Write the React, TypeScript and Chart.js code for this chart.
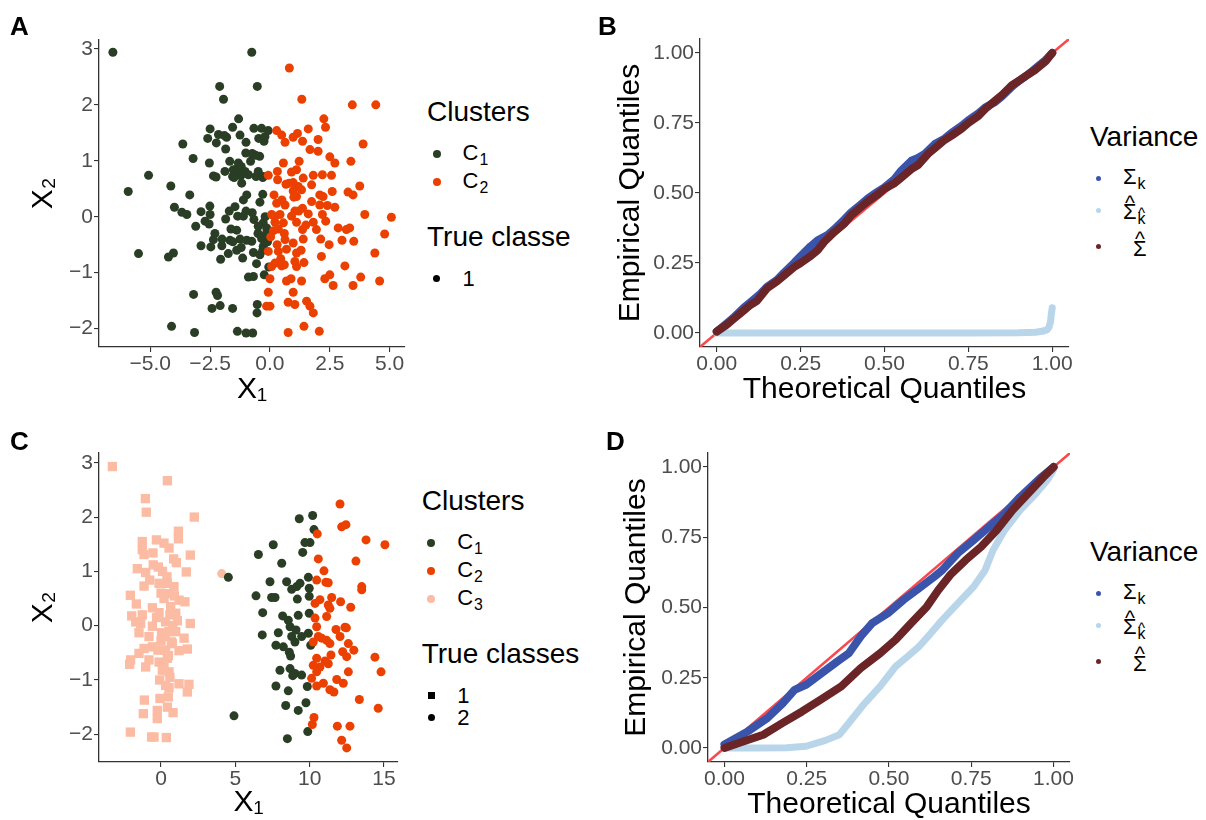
import React, { useEffect, useRef } from "react";
import { Chart, registerables } from "chart.js";
Chart.register(...registerables);

const FONT = '"Liberation Sans", Arial, Helvetica, "DejaVu Sans", sans-serif';
const GREEN = "#293E25";
const ORANGE = "#EB4000";
const PEACH = "#FCBBA3";
const BLUE = "#3B54AB";
const LIGHTBLUE = "#B8D5EA";
const BROWN = "#6B2526";
const RED = "#F8494E";
const TICK_COLOR = "#4D4D4D";

// ---------- Panel A : clusters on one true class ----------
const A_C1: number[][] = [
  [-6.56, 2.94], [-0.76, 2.94], [-2.1, 2.33], [-0.53, 2.33], [-1.94, 2.1], [-1.31, 1.75], [-2.5, 1.57], [-1.56, 1.6],
  [-0.67, 1.58], [-0.35, 1.58], [-0.07, 1.54], [-2.15, 1.47], [-1.81, 1.42], [-2.6, 1.4], [-1.25, 1.46], [-0.47, 1.4],
  [-0.21, 1.43], [-2.24, 1.32], [-1.0, 1.33], [-3.64, 1.3], [-1.85, 1.21], [-1.01, 1.14], [-0.74, 1.13], [-0.43, 1.08],
  [-3.21, 1.04], [-1.68, 0.99], [-2.53, 0.96], [-1.32, 0.96], [-0.81, 0.99], [-1.88, 0.81], [-1.53, 0.84], [-1.36, 0.78],
  [-1.04, 0.81], [-0.49, 0.81], [-1.56, 0.72], [-1.22, 0.73], [-2.36, 0.73], [-2.25, 0.71], [-5.07, 0.74], [-0.58, 0.72],
  [-0.28, 0.72], [-1.18, 0.6], [-4.14, 0.55], [-5.92, 0.45], [-3.35, 0.39], [-0.97, 0.39], [-1.11, 0.3], [-0.42, 0.26],
  [-3.99, 0.17], [-2.51, 0.19], [-1.46, 0.18], [-3.68, 0.08], [-3.47, 0.04], [-2.88, 0.09], [-2.5, 0.04], [-1.85, -0.04],
  [-1.35, 0.01], [-1.11, 0.01], [-0.74, 0.07], [-0.67, -0.05], [-2.71, -0.08], [-2.54, -0.13], [-3.1, -0.17], [-0.28, -0.11],
  [-0.14, -0.2], [-1.63, -0.22], [-1.39, -0.24], [-0.49, -0.17], [-2.36, -0.41], [-1.67, -0.42], [-1.25, -0.4], [-0.97, -0.42],
  [-0.76, -0.44], [-0.35, -0.39], [-2.47, -0.54], [-2.88, -0.52], [-2.01, -0.52], [-0.28, -0.53], [-1.39, -0.6], [-1.74, -0.66],
  [-5.49, -0.66], [-0.69, -0.64], [-0.42, -0.68], [-4.03, -0.65], [-4.24, -0.72], [-1.14, -0.74], [-2.06, -0.76], [-0.56, -0.84],
  [-0.9, -1.08], [-0.69, -1.07], [-0.24, -1.04], [-3.19, -1.39], [-2.25, -1.35], [-2.19, -1.41], [-2.08, -1.59], [-2.42, -1.64],
  [-1.56, -1.64], [-0.53, -1.57], [-0.54, -1.72], [-4.11, -1.96], [-3.15, -2.07], [-1.36, -2.05], [-1.0, -2.08], [-0.72, -2.08],
  [-1.5, 0.7], [-1.4, 0.85], [-1.2, 0.9], [-0.9, 0.75], [-0.3, 0.7], [-0.2, 0.0], [-0.15, -0.3], [-0.3, -0.6],
  [-0.1, -0.45], [-1.9, 1.45], [-2.0, -0.4], [-1.55, -0.45], [-1.2, -0.55], [-0.6, 1.1], [-0.25, 1.35], [-1.7, 0.1],
  [-0.05, -0.9], [-0.3, 0.4], [-2.3, -0.3], [-1.0, 0.1], [-0.5, -0.3],
];
const A_C2: number[][] = [
  [0.81, 2.66], [1.33, 2.1], [3.44, 2.0], [4.42, 2.0], [2.25, 1.75], [2.32, 1.6], [1.6, 1.57], [0.28, 1.54],
  [0.49, 1.46], [0.63, 1.33], [0.97, 1.42], [1.15, 1.49], [1.36, 1.35], [2.01, 1.38], [3.89, 1.3], [1.67, 1.2],
  [2.01, 1.17], [2.5, 1.07], [2.71, 0.96], [3.38, 0.99], [1.22, 0.99], [0.56, 0.96], [-0.07, 0.74], [0.31, 0.81],
  [0.9, 0.8], [1.11, 0.84], [1.81, 0.74], [2.19, 0.75], [2.57, 0.74], [0.32, 0.66], [0.67, 0.58], [0.97, 0.61],
  [1.39, 0.69], [1.74, 0.57], [1.18, 0.54], [0.97, 0.46], [1.32, 0.48], [1.11, 0.36], [3.75, 0.55], [2.6, 0.45],
  [3.26, 0.44], [3.47, 0.39], [0.17, 0.39], [2.08, 0.39], [2.22, 0.36], [0.28, 0.24], [0.63, 0.21], [1.74, 0.27],
  [2.08, 0.21], [2.71, 0.17], [1.04, 0.1], [1.36, 0.15], [0.07, 0.04], [0.42, 0.04], [0.9, 0.01], [2.19, 0.04],
  [3.96, 0.04], [5.07, -0.01], [0.21, -0.1], [0.56, -0.11], [1.11, -0.1], [1.81, -0.1], [2.33, -0.08], [0.35, -0.22],
  [1.36, -0.23], [1.94, -0.23], [2.85, -0.2], [3.19, -0.23], [3.33, -0.2], [4.79, -0.31], [0.03, -0.36], [0.63, -0.41],
  [0.97, -0.47], [1.39, -0.4], [2.12, -0.4], [3.01, -0.42], [3.5, -0.44], [2.47, -0.5], [-0.07, -0.62], [0.35, -0.62],
  [0.69, -0.58], [1.11, -0.65], [2.15, -0.71], [0.21, -0.83], [0.49, -0.88], [1.04, -0.8], [1.42, -0.82], [4.38, -0.65],
  [0.07, -0.89], [0.6, -0.86], [1.11, -0.89], [3.13, -0.88], [0.0, -1.11], [0.69, -1.15], [0.88, -1.11], [1.32, -1.15],
  [2.29, -1.11], [2.5, -1.04], [2.64, -1.23], [3.47, -1.23], [3.79, -1.08], [4.58, -1.15], [-0.07, -1.35], [0.97, -1.35],
  [0.76, -1.53], [1.04, -1.57], [1.53, -1.51], [1.67, -1.6], [1.81, -1.72], [-0.14, -1.6], [0.0, -1.6], [1.42, -1.96],
  [2.06, -2.05], [0.76, -2.07],
  [0.5, 0.3], [0.8, 0.6], [1.0, 0.35], [0.3, -0.5], [0.6, -0.3], [1.3, -0.6], [0.2, 0.0], [0.45, -0.75],
  [1.6, 0.05], [1.2, 0.1], [0.15, -0.25], [2.4, 0.2], [1.5, -0.15],
];

// ---------- Panel C : three clusters, two true classes ----------
const C_C3_CLASS1: number[][] = [
  [-3.27, 2.93], [0.43, 2.67], [-1.05, 2.34], [-0.99, 2.09], [2.24, 2.0], [1.17, 1.74], [1.17, 1.6], [-1.26, 1.55],
  [-0.31, 1.58], [0.2, 1.52], [0.54, 1.43], [-1.26, 1.4], [-1.14, 1.31], [-0.54, 1.34], [0.85, 1.23], [1.03, 1.16],
  [1.97, 1.3], [-0.52, 1.12], [-0.18, 1.08], [-1.59, 1.05], [-1.03, 0.98], [1.7, 0.99], [-0.76, 0.84], [-1.14, 0.73],
  [-0.13, 0.78], [0.43, 0.78], [0.87, 0.72], [-2.06, 0.56], [-1.66, 0.4], [0.54, 0.59], [1.61, 0.44], [1.21, 0.47],
  [-0.58, 0.33], [-0.13, 0.24], [0.65, 0.35], [0.99, 0.23], [-1.97, 0.18], [-1.26, 0.2], [-1.7, 0.07], [-1.37, 0.04],
  [0.31, 0.07], [1.1, 0.09], [1.97, 0.04], [-0.58, -0.01], [-1.48, -0.13], [-0.81, -0.2], [0.04, -0.13], [0.54, -0.11],
  [0.99, -0.11], [1.55, -0.23], [0.0, -0.28], [0.76, -0.33], [1.77, -0.43], [1.21, -0.46], [-1.14, -0.42], [-0.58, -0.39],
  [0.31, -0.45], [-1.48, -0.51], [-2.04, -0.63], [-2.11, -0.71], [-1.03, -0.76], [-0.81, -0.63], [-0.13, -0.67], [0.43, -0.6],
  [0.09, -0.82], [0.54, -0.85], [-0.09, -1.0], [0.31, -1.1], [1.21, -1.07], [1.88, -1.08], [1.77, -1.22], [0.54, -1.14],
  [-1.12, -1.37], [-0.07, -1.34], [0.49, -1.31], [-1.19, -1.62], [-0.25, -1.56], [0.43, -1.5], [0.81, -1.6], [-0.25, -1.71],
  [-2.06, -1.96], [-0.63, -2.05], [-0.47, -2.05], [0.36, -2.06],
  [0.2, 0.5], [0.4, 0.9], [0.6, 0.2], [0.3, -0.2], [0.5, -0.55], [0.7, -0.3], [0.0, 0.6], [0.8, 0.0],
  [-0.3, 0.15], [0.2, -0.75], [0.6, -0.95], [-0.2, -0.45], [0.9, 0.55], [0.1, 1.0],
];
const C_C3_CLASS2: number[][] = [[4.08, 0.96]];
const C_C1_CLASS2: number[][] = [
  [4.53, 0.89], [4.91, -1.66], [6.55, 1.31], [7.55, 1.49], [8.12, 1.15], [9.3, 1.97], [10.2, 2.03], [10.29, 1.77],
  [9.68, 1.53], [10.02, 1.53], [9.53, 1.35], [7.33, 0.81], [6.39, 0.55], [7.44, 0.52], [7.67, 0.52], [8.45, 0.81],
  [8.79, 0.67], [9.13, 0.72], [9.35, 0.78], [9.91, 0.89], [9.97, 0.69], [9.97, 0.54], [9.17, 0.49], [6.84, 0.24],
  [8.18, 0.18], [8.56, 0.1], [9.23, 0.19], [9.97, 0.23], [8.68, -0.02], [9.08, -0.08], [7.89, -0.13], [6.81, -0.17],
  [8.79, -0.2], [9.46, -0.2], [9.91, -0.14], [9.01, -0.3], [7.73, -0.36], [8.23, -0.39], [10.07, -0.36], [8.63, -0.49],
  [8.72, -0.56], [8.0, -0.82], [8.68, -0.79], [9.01, -0.88], [9.46, -0.91], [8.86, -0.92], [7.73, -1.11], [9.84, -1.12],
  [8.56, -1.2], [8.39, -1.47], [9.75, -1.42], [9.23, -1.56], [9.87, -1.95], [8.5, -2.08],
];
const C_C2_CLASS2: number[][] = [
  [12.04, 2.24], [12.15, 1.82], [12.44, 1.86], [10.51, 1.69], [13.79, 1.58], [15.06, 1.49], [10.58, 1.23], [13.11, 1.19],
  [10.96, 1.01], [10.47, 0.84], [11.09, 0.8], [11.25, 0.79], [13.5, 0.72], [13.5, 0.66], [10.36, 0.41], [10.69, 0.48],
  [11.48, 0.52], [11.25, 0.38], [11.36, 0.32], [12.08, 0.44], [12.76, 0.34], [11.14, 0.17], [10.36, 0.14], [10.47, -0.02],
  [11.77, -0.07], [12.04, -0.2], [12.37, -0.03], [12.47, -0.04], [10.58, -0.2], [10.81, -0.23], [10.24, -0.3], [11.14, -0.27],
  [11.36, -0.33], [12.6, -0.33], [12.22, -0.48], [12.97, -0.45], [12.49, -0.57], [10.47, -0.6], [11.03, -0.65], [11.43, -0.54],
  [11.25, -0.7], [10.69, -0.76], [10.24, -0.73], [10.47, -0.85], [12.6, -0.85], [14.39, -0.58], [14.8, -0.85], [10.13, -0.97],
  [10.47, -1.11], [10.92, -1.06], [11.82, -0.99], [12.26, -1.06], [11.36, -1.18], [11.63, -1.22], [13.34, -1.36], [14.61, -1.52],
  [10.29, -1.69], [10.18, -1.82], [11.86, -1.85], [12.71, -1.85], [12.15, -2.11], [12.49, -2.25],
];

// ---------- Panels B and D : QQ curves (theoretical, empirical) ----------
const B_SIGMA_K: number[][] = [
  [0, 0.005], [0.03, 0.035], [0.05, 0.055], [0.08, 0.09], [0.1, 0.11], [0.13, 0.14], [0.15, 0.165], [0.18, 0.19],
  [0.2, 0.215], [0.23, 0.25], [0.25, 0.275], [0.28, 0.31], [0.3, 0.33], [0.33, 0.35], [0.35, 0.37], [0.38, 0.405],
  [0.4, 0.43], [0.43, 0.46], [0.45, 0.48], [0.48, 0.505], [0.5, 0.52], [0.53, 0.55], [0.55, 0.58], [0.58, 0.615],
  [0.6, 0.625], [0.62, 0.64], [0.65, 0.675], [0.68, 0.695], [0.7, 0.715], [0.73, 0.74], [0.75, 0.76], [0.78, 0.785],
  [0.8, 0.805], [0.83, 0.825], [0.85, 0.845], [0.88, 0.88], [0.9, 0.9], [0.93, 0.925], [0.95, 0.945], [0.98, 0.975], [1.0, 1.0],
];
const B_SIGMA_HAT_K: number[][] = [
  [0, 0], [0.25, 0], [0.5, 0], [0.75, 0], [0.9, 0.001], [0.95, 0.003], [0.97, 0.006], [0.985, 0.012],
  [0.99, 0.02], [0.995, 0.04], [0.997, 0.065], [1.0, 0.09],
];
const B_SIGMA_HAT: number[][] = [
  [0, 0.005], [0.03, 0.03], [0.05, 0.05], [0.08, 0.08], [0.1, 0.1], [0.12, 0.115], [0.15, 0.16], [0.18, 0.185],
  [0.2, 0.205], [0.23, 0.235], [0.25, 0.25], [0.28, 0.275], [0.3, 0.295], [0.32, 0.325], [0.35, 0.36], [0.38, 0.39],
  [0.4, 0.42], [0.43, 0.45], [0.45, 0.47], [0.48, 0.495], [0.5, 0.515], [0.53, 0.535], [0.55, 0.555], [0.58, 0.585],
  [0.6, 0.6], [0.63, 0.64], [0.65, 0.66], [0.68, 0.69], [0.7, 0.705], [0.73, 0.73], [0.75, 0.75], [0.78, 0.775],
  [0.8, 0.8], [0.83, 0.83], [0.85, 0.85], [0.88, 0.885], [0.9, 0.9], [0.93, 0.925], [0.95, 0.94], [0.98, 0.97], [1.0, 1.0],
];
const D_SIGMA_K: number[][] = [
  [0, 0.012], [0.071, 0.059], [0.13, 0.106], [0.177, 0.159], [0.213, 0.207], [0.248, 0.225], [0.295, 0.266], [0.343, 0.308],
  [0.378, 0.337], [0.414, 0.397], [0.449, 0.444], [0.496, 0.479], [0.544, 0.527], [0.591, 0.568], [0.638, 0.61], [0.662, 0.633],
  [0.709, 0.693], [0.757, 0.74], [0.804, 0.787], [0.851, 0.834], [0.898, 0.893], [0.957, 0.958], [1.0, 1.0],
];
const D_SIGMA_HAT_K: number[][] = [
  [0, 0], [0.095, 0], [0.189, 0.001], [0.248, 0.006], [0.307, 0.027], [0.349, 0.047], [0.378, 0.089], [0.426, 0.159],
  [0.473, 0.219], [0.52, 0.29], [0.556, 0.325], [0.591, 0.361], [0.627, 0.408], [0.662, 0.456], [0.709, 0.515], [0.757, 0.574],
  [0.792, 0.633], [0.816, 0.704], [0.851, 0.775], [0.898, 0.846], [0.946, 0.905], [0.981, 0.953], [0.999, 0.988],
];
const D_SIGMA_HAT: number[][] = [
  [0, 0], [0.059, 0.024], [0.118, 0.047], [0.177, 0.089], [0.236, 0.13], [0.295, 0.174], [0.355, 0.219], [0.414, 0.284],
  [0.473, 0.337], [0.52, 0.385], [0.567, 0.444], [0.615, 0.503], [0.65, 0.562], [0.686, 0.616], [0.733, 0.669], [0.78, 0.716],
  [0.827, 0.775], [0.875, 0.846], [0.922, 0.905], [0.969, 0.964], [1.0, 1.0],
];
const DIAGONAL: number[][] = [[-0.05, -0.05], [1.05, 1.05]];

// ---------- ticks ----------
const A_X_TICKS = [-5, -2.5, 0, 2.5, 5];
const A_X_LABELS = ["\u22125.0", "\u22122.5", "0.0", "2.5", "5.0"];
const XY_Y_TICKS = [-2, -1, 0, 1, 2, 3];
const XY_Y_LABELS = ["\u22122", "\u22121", "0", "1", "2", "3"];
const C_X_TICKS = [0, 5, 10, 15];
const C_X_LABELS = ["0", "5", "10", "15"];
const QQ_TICKS = [0, 0.25, 0.5, 0.75, 1];
const QQ_LABELS = ["0.00", "0.25", "0.50", "0.75", "1.00"];

const pts = (a: number[][]) => a.map(([x, y]) => ({ x, y }));

function makeAxis(o: any) {
  return {
    type: "linear",
    position: o.isX ? "bottom" : "left",
    min: o.min,
    max: o.max,
    afterBuildTicks: (s: any) => {
      s.ticks = o.ticks.map((v: number) => ({ value: v }));
    },
    afterFit: (s: any) => {
      if (o.isX) s.height = o.fit;
      else s.width = o.fit;
    },
    ticks: {
      callback: (_v: any, i: number) => o.labels[i],
      autoSkip: false,
      maxRotation: 0,
      minRotation: 0,
      padding: o.isX ? 2 : 1,
      color: TICK_COLOR,
      font: { family: FONT, size: 21, lineHeight: 1 },
    },
    grid: { drawOnChartArea: false, drawTicks: true, tickLength: 5, color: "#333333", lineWidth: 1.1 },
    border: { display: true, color: "#333333", width: 1.3 },
    title: {
      display: true,
      text: o.title,
      color: "#000000",
      font: { family: FONT, size: 30, lineHeight: 1 },
      padding: o.titlePad,
    },
  };
}

function baseConfig(datasets: any[], x: any, y: any, padding: any) {
  return {
    type: "scatter",
    data: { datasets },
    options: {
      responsive: false,
      animation: false,
      events: [],
      layout: { padding },
      plugins: { legend: { display: false }, tooltip: { enabled: false } },
      scales: { x, y },
    },
  };
}

const dots = (a: number[][], color: string, style = "circle", r = 4.5) => ({
  data: pts(a),
  backgroundColor: color,
  borderWidth: 0,
  pointRadius: r,
  pointStyle: style,
  pointBorderWidth: 0,
});
const curve = (a: number[][], color: string, w = 8) => ({
  data: pts(a),
  showLine: true,
  borderColor: color,
  backgroundColor: color,
  borderWidth: w,
  pointRadius: 0,
  borderCapStyle: "round",
  borderJoinStyle: "round",
  fill: false,
});
const diag = () => ({
  data: pts(DIAGONAL),
  showLine: true,
  borderColor: RED,
  borderWidth: 2.5,
  pointRadius: 0,
  clip: 0,
  fill: false,
});

function configA() {
  return baseConfig(
    [dots(A_C2, ORANGE), dots(A_C1, GREEN)],
    makeAxis({ isX: true, min: -7.14, max: 5.64, ticks: A_X_TICKS, labels: A_X_LABELS, title: "X\u2081", fit: 63, titlePad: { top: 0, bottom: 5 } }),
    makeAxis({ isX: false, min: -2.33, max: 3.16, ticks: XY_Y_TICKS, labels: XY_Y_LABELS, title: "X\u2082", fit: 99, titlePad: { top: 29, bottom: 0 } }),
    { left: 0, top: 40, right: 15, bottom: 0 }
  );
}
function configB() {
  return baseConfig(
    [curve(B_SIGMA_HAT, BROWN), curve(B_SIGMA_HAT_K, LIGHTBLUE, 7), curve(B_SIGMA_K, BLUE), diag()],
    makeAxis({ isX: true, min: -0.05, max: 1.05, ticks: QQ_TICKS, labels: QQ_LABELS, title: "Theoretical Quantiles", fit: 63, titlePad: { top: 0, bottom: 5 } }),
    makeAxis({ isX: false, min: -0.05, max: 1.05, ticks: QQ_TICKS, labels: QQ_LABELS, title: "Empirical Quantiles", fit: 100, titlePad: { top: 16, bottom: 0 } }),
    { left: 0, top: 39, right: 11, bottom: 0 }
  );
}
function configC() {
  return baseConfig(
    [dots(C_C2_CLASS2, ORANGE), dots(C_C1_CLASS2, GREEN), dots(C_C3_CLASS2, PEACH), dots(C_C3_CLASS1, PEACH, "rect", 6.6)],
    makeAxis({ isX: true, min: -4.17, max: 15.94, ticks: C_X_TICKS, labels: C_X_LABELS, title: "X\u2081", fit: 58, titlePad: { top: 0, bottom: 2 } }),
    makeAxis({ isX: false, min: -2.51, max: 3.18, ticks: XY_Y_TICKS, labels: XY_Y_LABELS, title: "X\u2082", fit: 99, titlePad: { top: 29, bottom: 0 } }),
    { left: 0, top: 33, right: 22, bottom: 0 }
  );
}
function configD() {
  return baseConfig(
    [curve(D_SIGMA_HAT, BROWN), curve(D_SIGMA_HAT_K, LIGHTBLUE, 7), curve(D_SIGMA_K, BLUE), diag()],
    makeAxis({ isX: true, min: -0.05, max: 1.05, ticks: QQ_TICKS, labels: QQ_LABELS, title: "Theoretical Quantiles", fit: 58, titlePad: { top: 0, bottom: 0 } }),
    makeAxis({ isX: false, min: -0.05, max: 1.05, ticks: QQ_TICKS, labels: QQ_LABELS, title: "Empirical Quantiles", fit: 108, titlePad: { top: 22, bottom: 0 } }),
    { left: 0, top: 33, right: 10, bottom: 0 }
  );
}

function Panel(props: { left: number; top: number; width: number; height: number; make: () => any }) {
  const ref = useRef<HTMLCanvasElement>(null);
  useEffect(() => {
    const chart = new Chart(ref.current as HTMLCanvasElement, props.make() as any);
    return () => chart.destroy();
  }, []);
  return (
    <canvas
      ref={ref}
      width={props.width}
      height={props.height}
      style={{ position: "absolute", left: props.left, top: props.top, width: props.width, height: props.height }}
    />
  );
}

function Txt(p: { x: number; b: number; size: number; children: any; bold?: boolean }) {
  return (
    <div
      style={{
        position: "absolute",
        left: p.x,
        top: p.b - 0.8465 * p.size,
        fontSize: p.size,
        lineHeight: 1,
        fontFamily: FONT,
        fontWeight: p.bold ? "bold" : "normal",
        color: "#000",
        whiteSpace: "nowrap",
      }}
    >
      {p.children}
    </div>
  );
}
function Dot(p: { x: number; y: number; d: number; color: string; square?: boolean }) {
  return (
    <div
      style={{
        position: "absolute",
        left: p.x - p.d / 2,
        top: p.y - p.d / 2,
        width: p.d,
        height: p.d,
        borderRadius: p.square ? 0 : "50%",
        background: p.color,
      }}
    />
  );
}
function Sub(p: { children: any }) {
  return <span style={{ fontSize: "0.72em", position: "relative", top: "0.3em", marginLeft: 1 }}>{p.children}</span>;
}
function Hat(p: { children: any }) {
  return (
    <span style={{ position: "relative", display: "inline-block" }}>
      {p.children}
      <span style={{ position: "absolute", left: 0, right: 0, textAlign: "center", top: "-0.42em", fontSize: "0.95em", lineHeight: 1 }}>^</span>
    </span>
  );
}

function ClusterLegend(p: { x: number; y: number; labels: string[]; colors: string[]; classTitle: string; classes: string[]; squareFirst: boolean; classY: number }) {
  const items = p.labels.map((l, i) => (
    <React.Fragment key={l}>
      <Dot x={p.x + 9.7} y={p.y + 32.3 + i * 28} d={8} color={p.colors[i]} />
      <Txt x={p.x + 35.5} b={p.y + 39 + i * 28} size={22}>
        C<Sub>{l}</Sub>
      </Txt>
    </React.Fragment>
  ));
  const cls = p.classes.map((c, i) => (
    <React.Fragment key={c}>
      <Dot x={p.x + 9.7} y={p.classY + 32 + i * 22} d={7.5} color="#000" square={p.squareFirst && i === 0} />
      <Txt x={p.x + 35.5} b={p.classY + 40 + i * 22} size={22}>{c}</Txt>
    </React.Fragment>
  ));
  return (
    <>
      <Txt x={p.x} b={p.y} size={28}>Clusters</Txt>
      {items}
      <Txt x={p.x} b={p.classY} size={28}>{p.classTitle}</Txt>
      {cls}
    </>
  );
}

function VarianceLegend(p: { y: number }) {
  const y = p.y;
  return (
    <>
      <Txt x={1090} b={y + 146.7} size={28}>Variance</Txt>
      <Dot x={1098.3} y={y + 178.3} d={5.5} color={BLUE} />
      <Dot x={1098.3} y={y + 210.5} d={5.5} color={LIGHTBLUE} />
      <Dot x={1098.3} y={y + 246.7} d={5.5} color={BROWN} />
      <Txt x={1123} b={y + 185} size={22}>
        Σ<Sub>k</Sub>
      </Txt>
      <Txt x={1123} b={y + 220} size={22}>
        <Hat>Σ</Hat>
        <Sub>
          <Hat>k</Hat>
        </Sub>
      </Txt>
      <Txt x={1133} b={y + 256.7} size={22}>
        <Hat>Σ</Hat>
      </Txt>
    </>
  );
}

export default function App() {
  return (
    <div style={{ position: "absolute", left: 0, top: 0, width: 1206, height: 820, background: "#fff", overflow: "hidden" }}>
      <Panel left={0} top={0} width={420} height={410} make={configA} />
      <Panel left={600} top={0} width={480} height={410} make={configB} />
      <Panel left={0} top={420} width={420} height={400} make={configC} />
      <Panel left={600} top={420} width={480} height={400} make={configD} />

      <Txt x={10} b={35} size={26} bold>A</Txt>
      <Txt x={598} b={35} size={26} bold>B</Txt>
      <Txt x={10} b={450} size={26} bold>C</Txt>
      <Txt x={606} b={450} size={26} bold>D</Txt>

      <ClusterLegend x={427} y={121.7} labels={["1", "2"]} colors={[GREEN, ORANGE]} classTitle="True classe" classes={["1"]} squareFirst={false} classY={246.7} />
      <ClusterLegend x={421.7} y={510.7} labels={["1", "2", "3"]} colors={[GREEN, ORANGE, PEACH]} classTitle="True classes" classes={["1", "2"]} squareFirst={true} classY={663.3} />

      <VarianceLegend y={0} />
      <VarianceLegend y={415} />
    </div>
  );
}
